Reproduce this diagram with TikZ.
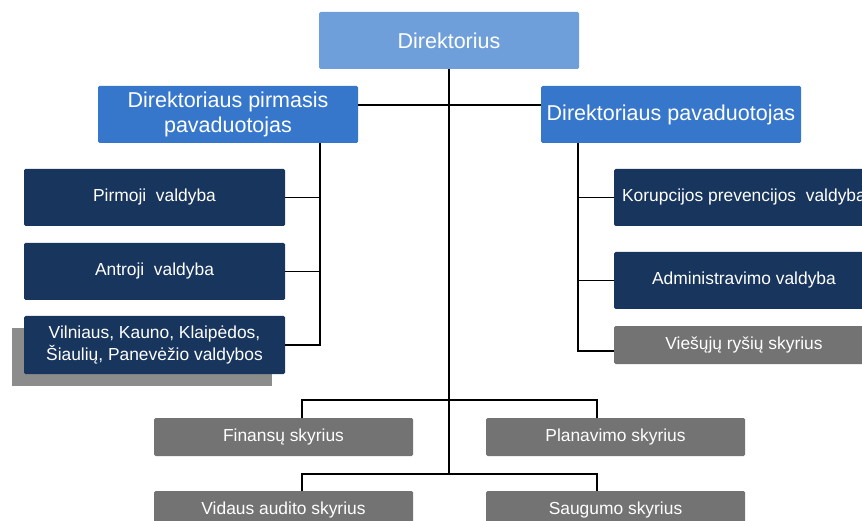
\documentclass[tikz,border=0pt]{standalone}
\usepackage{fontspec}
\setmainfont{Liberation Sans}
\definecolor{dirblue}{HTML}{6F9FDB}
\definecolor{depblue}{HTML}{3677CC}
\definecolor{navy}{HTML}{18365D}
\definecolor{boxgray}{HTML}{737373}
\definecolor{shadowgray}{HTML}{8C8C8C}
\begin{document}
\begin{tikzpicture}[x=1pt,y=-1pt,
  base/.style={rectangle,rounded corners=1.5pt,text=white,align=center,inner sep=0pt},
  topbox/.style={base,fill=dirblue,minimum width=260pt,minimum height=57pt,font=\fontsize{21.5}{25}\selectfont},
  depbox/.style={base,fill=depblue,minimum width=260pt,minimum height=57pt,font=\fontsize{21.5}{25}\selectfont},
  unitbox/.style={base,fill=navy,minimum width=261pt,minimum height=57pt,font=\fontsize{17.4}{22}\selectfont},
  graybox/.style={base,fill=boxgray,minimum width=259pt,minimum height=38pt,font=\fontsize{17.4}{22}\selectfont},
  shadowbox/.style={rectangle,fill=shadowgray,minimum width=260pt,minimum height=58pt,inner sep=0pt},
  conn/.style={draw=black,line width=1.2pt}]
\useasboundingbox (0,0) rectangle (862,521);
\clip (0,0) rectangle (862,521);
% coordinates
\coordinate (lx) at (320,0);
\coordinate (rx) at (578,0);
\coordinate (b1) at (449,400);
\coordinate (b2) at (449,474);
\coordinate (hy) at (0,105);
% nodes
\node[topbox] (dir) at (449,40.5) {Direktorius};
\node[depbox] (fp) at (228,114.5) {Direktoriaus pirmasis\\pavaduotojas};
\node[depbox] (dp) at (671,114.5) {Direktoriaus pavaduotojas};
\node[unitbox] (pv) at (154.5,197.5) {Pirmoji\ \ valdyba};
\node[unitbox] (av) at (154.5,271.5) {Antroji\ \ valdyba};
\node[shadowbox] (sh) at (142,357) {};
\node[unitbox,minimum height=58pt] (vk) at (154.5,345) {Vilniaus, Kauno, Klaipėdos,\\Šiaulių, Panevėžio valdybos};
\node[unitbox,minimum width=260pt] (kp) at (744,197.5) {Korupcijos prevencijos\ \ valdyba};
\node[unitbox,minimum width=260pt] (adm) at (744,280.5) {Administravimo valdyba};
\node[graybox,minimum width=260pt] (vrs) at (744,345) {Viešųjų ryšių skyrius};
\node[graybox] (fin) at (283.5,437) {Finansų skyrius};
\node[graybox] (plan) at (615.5,437) {Planavimo skyrius};
\node[graybox] (vid) at (283.5,510) {Vidaus audito skyrius};
\node[graybox] (saug) at (615.5,510) {Saugumo skyrius};
% connectors
\draw[conn] (dir.south) -- (b2);
\draw[conn] (fp.east |- hy) -- (dp.west |- hy);
\draw[conn] (fp.south -| lx) |- (vk.east);
\draw[conn] (pv.east) -- (pv.east -| lx);
\draw[conn] (av.east) -- (av.east -| lx);
\draw[conn] (dp.south -| rx) |- ([yshift=-6pt]vrs.west);
\draw[conn] (kp.west) -- (kp.west -| rx);
\draw[conn] (adm.west) -- (adm.west -| rx);
\draw[conn] ([xshift=18.5pt]fin.north) |- (b1) -| ([xshift=-18.5pt]plan.north);
\draw[conn] ([xshift=18.5pt]vid.north) |- (b2) -| ([xshift=-18.5pt]saug.north);
\end{tikzpicture}
\end{document}
